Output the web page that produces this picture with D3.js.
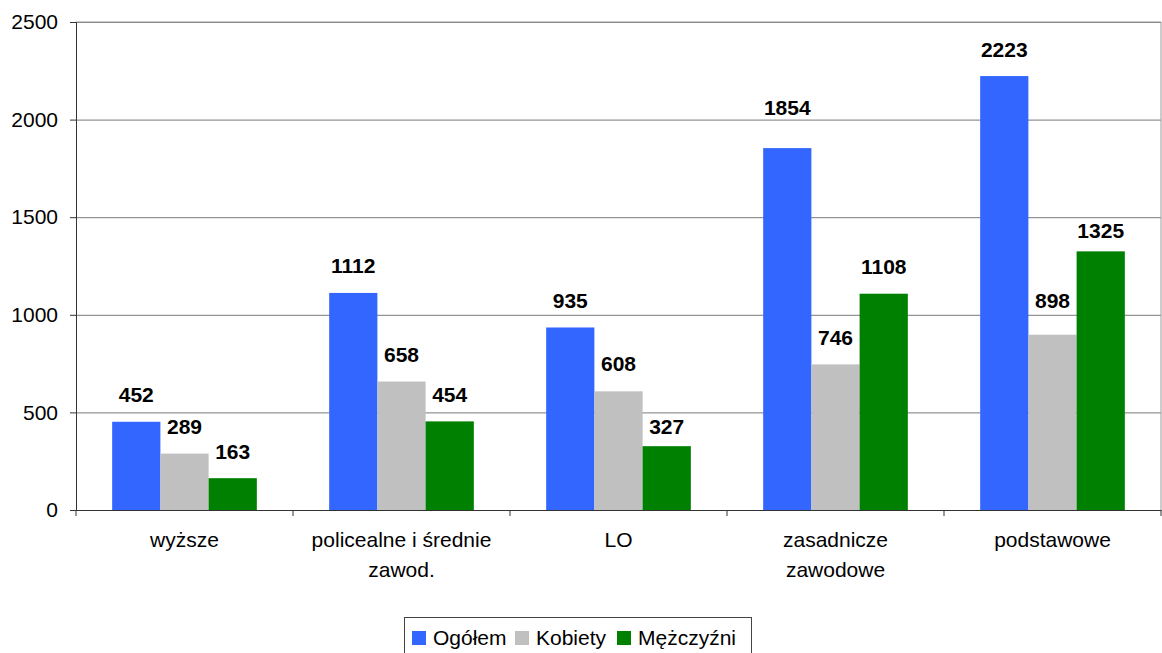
<!DOCTYPE html>
<html>
<head>
<meta charset="utf-8">
<script src="https://cdn.jsdelivr.net/npm/d3@7"></script>
<style>
  body { margin: 0; background: #fff; }
  svg { display: block; font-family: Arial, "Liberation Sans", sans-serif; }
</style>
</head>
<body>
<div id="chart"></div>
<script>
const categories = ["wyższe", "policealne i średnie zawod.", "LO", "zasadnicze zawodowe", "podstawowe"];
const seriesNames = ["Ogółem", "Kobiety", "Mężczyźni"];
const ogolem = [452, 1112, 935, 1854, 2223];
const kobiety = [289, 658, 608, 746, 898];
const mezczyzni = [163, 454, 327, 1108, 1325];
const yTicks = [0, 500, 1000, 1500, 2000, 2500];
const colors = ["#3366ff", "#c0c0c0", "#008000"];

// layout: how far (px) each value label sits above its bar, as in the original
const labelLift = [
  [19.5, 19.5, 19.5, 33, 19.5],
  [19.5, 19.5, 20, 19.5, 27],
  [19, 19.5, 12, 19.5, 13],
];

const width = 1162;
const height = 653;
const margin = { top: 22, left: 76, bottom: 143, right: 1 };
const iwidth = width - margin.left - margin.right;
const iheight = height - margin.top - margin.bottom;
const fontSize = 21;

const values = [ogolem, kobiety, mezczyzni];
const data = categories.map((c, i) => ({
  name: c,
  vals: seriesNames.map((s, j) => ({ series: s, value: values[j][i], lift: labelLift[j][i] })),
}));

const svg = d3
  .select("#chart")
  .append("svg")
  .attr("width", width)
  .attr("height", height);

const g = svg.append("g").attr("transform", `translate(${margin.left},${margin.top})`);

const x = d3.scaleBand().domain(categories).range([0, iwidth]).padding(0);
const x1 = d3
  .scaleBand()
  .domain(seriesNames)
  .range([0, x.bandwidth()])
  .paddingInner(0)
  .paddingOuter(0.75);
const y = d3.scaleLinear().domain([0, 2500]).range([iheight, 0]);

// gridlines
g.append("g")
  .attr("class", "grid")
  .call(d3.axisLeft(y).tickValues(yTicks.slice(1)).tickSize(-iwidth).tickFormat(""))
  .call((s) => s.select(".domain").remove())
  .call((s) => s.selectAll("line").attr("stroke", "#7a7a7a"));

// plot border (top/right)
g.append("line").attr("x1", 0).attr("x2", iwidth).attr("y1", 0).attr("y2", 0).attr("stroke", "#999");
g.append("line").attr("x1", iwidth).attr("x2", iwidth).attr("y1", 0).attr("y2", iheight).attr("stroke", "#999");

// bars
const groups = g
  .selectAll(".cat")
  .data(data)
  .enter()
  .append("g")
  .attr("class", "cat")
  .attr("transform", (d) => `translate(${x(d.name)},0)`);

groups
  .selectAll("rect")
  .data((d) => d.vals)
  .enter()
  .append("rect")
  .attr("x", (d) => x1(d.series))
  .attr("width", x1.bandwidth())
  .attr("y", (d) => y(d.value))
  .attr("height", (d) => iheight - y(d.value))
  .attr("fill", (d, i) => colors[i]);

groups
  .selectAll("text.val")
  .data((d) => d.vals)
  .enter()
  .append("text")
  .attr("class", "val")
  .attr("x", (d) => x1(d.series) + x1.bandwidth() / 2)
  .attr("y", (d) => y(d.value) - d.lift)
  .attr("text-anchor", "middle")
  .attr("font-size", fontSize)
  .attr("font-weight", "bold")
  .text((d) => d.value);

// y axis
g.append("g")
  .call(d3.axisLeft(y).tickValues(yTicks).tickFormat(d3.format("d")).tickSize(6).tickPadding(12))
  .call((s) => s.select(".domain").attr("stroke", "#333"))
  .call((s) => s.selectAll("line").attr("stroke", "#333"))
  .call((s) => s.selectAll("text").attr("font-size", fontSize).attr("fill", "#000").attr("font-family", null));

// x axis
const xAxis = g
  .append("g")
  .attr("transform", `translate(0,${iheight})`)
  .call(d3.axisBottom(x).tickSize(0).tickFormat(""));
xAxis.select(".domain").attr("stroke", "#333");

xAxis
  .selectAll(".sep")
  .data(categories.concat(["end"]))
  .enter()
  .append("line")
  .attr("x1", (d, i) => (i < categories.length ? x(d) : iwidth))
  .attr("x2", (d, i) => (i < categories.length ? x(d) : iwidth))
  .attr("y1", 0)
  .attr("y2", 6)
  .attr("stroke", "#333");

// category labels with wrapping
const labels = g
  .selectAll(".xlab")
  .data(categories)
  .enter()
  .append("text")
  .attr("class", "xlab")
  .attr("text-anchor", "middle")
  .attr("font-size", fontSize)
  .attr("fill", "#000")
  .attr("transform", (d) => `translate(${x(d) + x.bandwidth() / 2},${iheight + 37})`);

labels.each(function (d) {
  const t = d3.select(this);
  const words = d.split(" ");
  let line = [];
  let lineNo = 0;
  let tspan = t.append("tspan").attr("x", 0).attr("y", 0);
  words.forEach((w) => {
    line.push(w);
    tspan.text(line.join(" "));
    if (tspan.node().getComputedTextLength() > 198 && line.length > 1) {
      line.pop();
      tspan.text(line.join(" "));
      line = [w];
      lineNo++;
      tspan = t.append("tspan").attr("x", 0).attr("y", lineNo * 30).text(w);
    }
  });
});

// legend
const legend = svg.append("g").attr("transform", "translate(404,617)");
legend
  .append("rect")
  .attr("x", 0.5)
  .attr("y", 0.5)
  .attr("width", 347)
  .attr("height", 60)
  .attr("fill", "#fff")
  .attr("stroke", "#444");

const legendX = [8, 111, 213];
const items = legend
  .selectAll(".item")
  .data(seriesNames)
  .enter()
  .append("g")
  .attr("transform", (d, i) => `translate(${legendX[i]},0)`);

items
  .append("rect")
  .attr("x", 0)
  .attr("y", 14)
  .attr("width", 14)
  .attr("height", 14)
  .attr("fill", (d, i) => colors[i]);

items
  .append("text")
  .attr("x", 21)
  .attr("y", 28)
  .attr("font-size", fontSize)
  .attr("fill", "#000")
  .text((d) => d);
</script>
</body>
</html>
